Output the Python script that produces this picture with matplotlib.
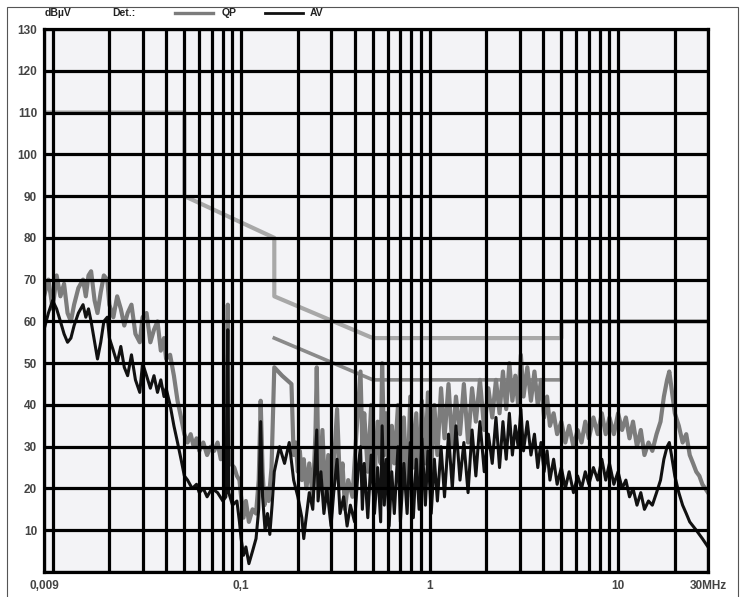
import matplotlib
matplotlib.use("Agg")
import matplotlib.pyplot as plt
from matplotlib.patches import Rectangle

plt.rcParams['font.family'] = ['Liberation Sans', 'DejaVu Sans']

# Limit lines (dBuV) vs frequency (MHz)
qp_limit_f = [0.009, 0.05, 0.05, 0.15, 0.15, 0.5, 5, 5, 30]
qp_limit_db = [110, 110, 90, 80, 66, 56, 56, 60, 60]
av_limit_f = [0.15, 0.5, 5, 5, 30]
av_limit_db = [56, 46, 46, 50, 50]

# Quasi-peak scan
qp_f = [0.009, 0.0095, 0.0100, 0.0105, 0.0110, 0.0115, 0.0120, 0.0125, 0.0130, 0.0137,
        0.0145, 0.0150, 0.0155, 0.0160, 0.0167, 0.0173, 0.0180, 0.0187, 0.0195, 0.0200,
        0.0210, 0.0220, 0.0230, 0.0240, 0.0250, 0.0262, 0.0275, 0.0290, 0.0300, 0.0315,
        0.0330, 0.0345, 0.0360, 0.0375, 0.0390, 0.0400, 0.0420, 0.0440, 0.0460, 0.0480,
        0.0500, 0.0520, 0.0540, 0.0560, 0.0580, 0.0600, 0.0630, 0.0660, 0.0690, 0.0720,
        0.0750, 0.0780, 0.0810, 0.0830, 0.0850, 0.0860, 0.0880, 0.0920, 0.0950, 0.0980,
        0.1000, 0.1030, 0.1060, 0.1100, 0.1150, 0.1200, 0.1240, 0.1270, 0.1300, 0.1330,
        0.1370, 0.1400, 0.1450, 0.1500, 0.1650, 0.1850, 0.1900, 0.1950, 0.2000, 0.2050,
        0.2100, 0.2150, 0.2220, 0.2300, 0.2400, 0.2480, 0.2520, 0.2560, 0.2620, 0.2700,
        0.2800, 0.2900, 0.3000, 0.3100, 0.3230, 0.3350, 0.3450, 0.3560, 0.3700, 0.3900,
        0.4100, 0.4300, 0.4400, 0.4500, 0.4700, 0.4900, 0.5100, 0.5300, 0.5500, 0.5600,
        0.5750, 0.5900, 0.6100, 0.6300, 0.6500, 0.6800, 0.7000, 0.7300, 0.7600, 0.7900,
        0.8200, 0.8500, 0.8800, 0.9100, 0.9500, 0.9800, 1.02, 1.06, 1.10, 1.15,
        1.20, 1.26, 1.32, 1.38, 1.45, 1.52, 1.60, 1.68, 1.76, 1.85,
        1.95, 2.05, 2.15, 2.25, 2.35, 2.45, 2.55, 2.65, 2.75, 2.85,
        2.95, 3.05, 3.15, 3.30, 3.45, 3.60, 3.75, 3.90, 4.05, 4.20,
        4.35, 4.55, 4.75, 5.00, 5.25, 5.5, 5.8, 6.1, 6.4, 6.7,
        7.0, 7.4, 7.8, 8.2, 8.6, 9.0, 9.5, 10.0, 10.5, 11.0,
        11.5, 12.0, 12.6, 13.2, 13.8, 14.5, 15.2, 16.0, 16.8, 17.5,
        18.2, 18.7, 19.2, 20.0, 21.0, 22.0, 23.0, 24.0, 25.0, 26.0,
        27.0, 28.0, 29.0, 30.0]
qp_db = [66, 70, 63, 71, 66, 69, 62, 60, 64, 68,
         70, 66, 71, 72, 65, 62, 67, 71, 70, 64,
         61, 66, 63, 59, 62, 64, 57, 55, 61, 62,
         55, 58, 60, 53, 56, 51, 52, 47, 41, 37,
         33, 31, 33, 30, 32, 29, 31, 28, 30, 29,
         31, 27, 30, 28, 64, 30, 26, 25, 23, 22,
         18, 13, 17, 12, 15, 14, 22, 41, 24, 16,
         20, 17, 25, 49, 47, 45, 28, 31, 24, 29,
         22, 27, 20, 26, 18, 33, 49, 30, 22, 34,
         17, 28, 14, 25, 39, 20, 26, 15, 22, 18,
         34, 48, 30, 38, 24, 40, 22, 36, 26, 50,
         28, 38, 20, 35, 26, 40, 22, 37, 18, 42,
         25, 38, 20, 41, 26, 43, 24, 40, 28, 44,
         32, 45, 30, 42, 33, 45, 31, 44, 36, 46,
         34, 44, 37, 46, 38, 48, 39, 50, 41, 47,
         40, 52, 42, 49, 41, 48, 40, 46, 37, 42,
         35, 38, 33, 36, 31, 35, 30, 34, 31, 36,
         32, 37, 33, 38, 33, 37, 33, 38, 34, 37,
         32, 36, 30, 34, 28, 31, 29, 33, 36, 42,
         46, 48, 44, 38, 35, 31, 33, 28, 26, 24,
         23, 21, 20, 19]

# Average scan
av_f = [0.009, 0.0095, 0.0100, 0.0105, 0.0110, 0.0115, 0.0120, 0.0125, 0.0130, 0.0137,
        0.0145, 0.0150, 0.0155, 0.0160, 0.0167, 0.0173, 0.0180, 0.0187, 0.0195, 0.0200,
        0.0210, 0.0220, 0.0230, 0.0240, 0.0250, 0.0262, 0.0275, 0.0290, 0.0300, 0.0315,
        0.0330, 0.0345, 0.0360, 0.0375, 0.0390, 0.0400, 0.0420, 0.0440, 0.0460, 0.0480,
        0.0500, 0.052, 0.055, 0.058, 0.060, 0.063, 0.066, 0.070, 0.075, 0.080,
        0.083, 0.085, 0.086, 0.090, 0.095, 0.098, 0.100, 0.103, 0.106, 0.110,
        0.115, 0.120, 0.124, 0.127, 0.130, 0.134, 0.138, 0.142, 0.146, 0.150,
        0.160, 0.170, 0.180, 0.190, 0.200, 0.210, 0.215, 0.220, 0.230, 0.240,
        0.252, 0.256, 0.265, 0.275, 0.285, 0.300, 0.310, 0.323, 0.335, 0.350,
        0.365, 0.380, 0.400, 0.420, 0.430, 0.440, 0.450, 0.470, 0.490, 0.510,
        0.530, 0.550, 0.560, 0.575, 0.590, 0.610, 0.630, 0.650, 0.680, 0.700,
        0.730, 0.760, 0.790, 0.820, 0.850, 0.880, 0.910, 0.950, 0.980, 1.02,
        1.06, 1.10, 1.15, 1.20, 1.26, 1.32, 1.38, 1.45, 1.52, 1.60,
        1.68, 1.76, 1.85, 1.95, 2.05, 2.15, 2.25, 2.35, 2.45, 2.55,
        2.65, 2.75, 2.85, 2.95, 3.05, 3.15, 3.30, 3.45, 3.60, 3.75,
        3.90, 4.05, 4.20, 4.35, 4.55, 4.75, 5.00, 5.25, 5.5, 5.8,
        6.1, 6.4, 6.7, 7.0, 7.4, 7.8, 8.2, 8.6, 9.0, 9.5,
        10.0, 10.5, 11.0, 11.5, 12.0, 12.6, 13.2, 13.8, 14.5, 15.2,
        16.0, 16.8, 17.5, 18.2, 18.7, 19.2, 20.0, 21.0, 22.0, 23.0,
        24.0, 25.0, 26.0, 27.0, 28.0, 29.0, 30.0]
av_db = [58, 62, 65, 63, 60, 57, 55, 56, 59, 62,
         64, 61, 63, 60, 55, 51, 55, 60, 61, 56,
         53, 50, 54, 49, 47, 52, 46, 43, 50, 47,
         44, 47, 43, 46, 42, 44, 40, 35, 31, 27,
         23, 22, 20, 21, 19, 20, 18, 20, 19, 17,
         18, 58, 19, 16, 17, 12, 8, 4, 6, 2,
         5, 8, 15, 36, 18, 10, 14, 9, 16, 24,
         30, 26, 31, 22, 18, 13, 8, 12, 19, 15,
         34, 17, 24, 14, 20, 11, 19, 27, 14, 18,
         11, 16, 12, 26, 30, 15, 26, 13, 28, 14,
         25, 12, 35, 16, 27, 11, 24, 14, 30, 12,
         26, 14, 31, 13, 27, 15, 32, 16, 29, 14,
         27, 17, 30, 18, 33, 20, 35, 22, 31, 19,
         34, 23, 36, 24, 33, 26, 37, 25, 36, 27,
         38, 28, 35, 30, 39, 29, 36, 28, 33, 25,
         31, 24, 29, 22, 27, 21, 25, 20, 24, 19,
         23, 20, 24, 21, 25, 22, 27, 22, 26, 21,
         24, 20, 22, 18, 20, 16, 19, 15, 17, 16,
         19, 22, 27, 30, 31, 28, 23, 19, 16, 14,
         12, 11, 10, 9, 8, 7, 6]

y_ticks = list(range(0, 131, 10))
y_labels = [''] + [str(v) for v in y_ticks[1:]]
x_major = [0.009, 0.1, 1, 10, 30]
x_labels = ['0,009', '0,1', '1', '10', '30MHz']
x_minor = [0.01, 0.02, 0.03, 0.04, 0.05, 0.06, 0.07, 0.08, 0.09,
           0.2, 0.3, 0.4, 0.5, 0.6, 0.7, 0.8, 0.9,
           2, 3, 4, 5, 6, 7, 8, 9, 20]

fig = plt.figure(figsize=(7.45, 5.97), dpi=100)
ax = fig.add_axes([44 / 745, 1 - 572 / 597, (708 - 44) / 745, (572 - 29) / 597])
ax.set_facecolor('#f3f3f6')

ax.plot(qp_limit_f, qp_limit_db, color='#a8a8a8', lw=3.0, zorder=1.5)
ax.plot(av_limit_f, av_limit_db, color='#8a8a8a', lw=2.6, zorder=1.5)
ax.plot(qp_f, qp_db, color='#7c7c7c', lw=3.0, zorder=2)
ax.plot(av_f, av_db, color='#111111', lw=2.2, zorder=2.1)

ax.set_xscale('log')
ax.set_xlim(0.009, 30)
ax.set_ylim(0, 130)
ax.set_xticks(x_major)
ax.set_xticklabels(x_labels)
ax.set_xticks(x_minor, minor=True)
ax.xaxis.set_minor_formatter(plt.NullFormatter())
ax.set_yticks(y_ticks)
ax.set_yticklabels(y_labels)
ax.tick_params(which='both', length=0, labelsize=8.5, colors='#444444')
for lbl in ax.get_xticklabels() + ax.get_yticklabels():
    lbl.set_fontweight('bold')
ax.tick_params(axis='x', pad=6)
ax.tick_params(axis='y', pad=5)
ax.set_axisbelow(False)
ax.grid(True, which='both', color='black', lw=2.3)
for s in ax.spines.values():
    s.set_color('black')
    s.set_linewidth(2.3)

# header legend
fig.text(45 / 745, 1 - 13 / 597, 'dBµV', fontsize=7.5, fontweight='bold', va='center', color='#222222')
fig.text(112 / 745, 1 - 13 / 597, 'Det.:', fontsize=7.5, fontweight='bold', va='center', color='#222222')
fig.add_artist(plt.Line2D([175 / 745, 213 / 745], [1 - 13 / 597] * 2, color='#7c7c7c', lw=2.4))
fig.text(222 / 745, 1 - 13 / 597, 'QP', fontsize=7.5, fontweight='bold', va='center', color='#222222')
fig.add_artist(plt.Line2D([265 / 745, 303 / 745], [1 - 13 / 597] * 2, color='#111111', lw=2.0))
fig.text(310 / 745, 1 - 13 / 597, 'AV', fontsize=7.5, fontweight='bold', va='center', color='#222222')

# outer frame
fig.add_artist(Rectangle((7 / 745, -0.02), (738 - 7) / 745, 1 - 7 / 597 + 0.02,
                         transform=fig.transFigure, fill=False, edgecolor='#555555', lw=0.8))

fig.savefig('out.png', dpi=100)
